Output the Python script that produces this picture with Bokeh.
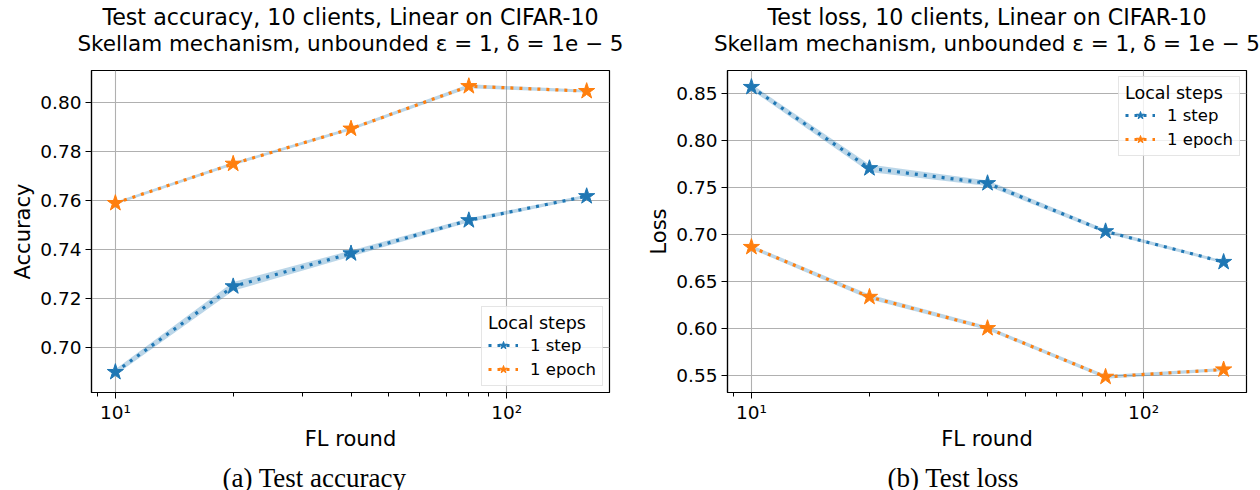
import numpy as np
from bokeh.plotting import figure
from bokeh.models import (FixedTicker, Title, Legend, LegendItem, Range1d,
                          PrintfTickFormatter)
from bokeh.layouts import row
from bokeh.embed import file_html
from bokeh.resources import INLINE

# ---------------- data ----------------
rounds = [10, 20, 40, 80, 160]

acc_step = [0.6901, 0.7250, 0.7384, 0.7519, 0.7617]
acc_step_err = [0.0012, 0.0018, 0.0012, 0.0008, 0.0006]
acc_epoch = [0.7589, 0.7749, 0.7892, 0.8065, 0.8045]
acc_epoch_err = [0.0006, 0.0006, 0.0006, 0.0008, 0.0006]

loss_step = [0.8565, 0.7702, 0.7543, 0.7032, 0.6706]
loss_step_err = [0.003, 0.004, 0.003, 0.002, 0.0015]
loss_epoch = [0.6865, 0.6335, 0.6003, 0.5486, 0.5564]
loss_epoch_err = [0.002, 0.0025, 0.002, 0.002, 0.0015]

series_labels = ["1 step", "1 epoch"]
series_colors = ["#1f77b4", "#ff7f0e"]
band_color = "#1f77b4"

acc_yticks = [0.70, 0.72, 0.74, 0.76, 0.78, 0.80]
loss_yticks = [0.55, 0.60, 0.65, 0.70, 0.75, 0.80, 0.85]
x_major = [10, 100]
x_minor = [9, 20, 30, 40, 50, 60, 70, 80, 90]
x_labels = {10: "10¹", 100: "10²"}

FONT = "DejaVu Sans"
FH = 322


def make_panel(t1, t2, ylabel, yticks, ylim, series, legend_loc, caption,
               caption_offset, border_left, border_right, frame_w):
    p = figure(x_axis_type="log", x_range=Range1d(8.69, 183.0),
               y_range=Range1d(*ylim), frame_width=frame_w, frame_height=FH,
               min_border_left=border_left, min_border_right=border_right,
               min_border_top=70, min_border_bottom=98,
               output_backend="svg", toolbar_location=None, title=None)
    p.background_fill_color = "white"
    p.border_fill_color = "white"
    p.outline_line_color = "black"
    p.outline_line_width = 1.2

    # second title line (closest to the frame), then first line
    p.add_layout(Title(text=t2, align="center", vertical_align="top",
                       text_font=FONT, text_font_size="21.5px",
                       text_font_style="normal", text_color="black",
                       standoff=26), "above")
    p.add_layout(Title(text=t1, align="center", vertical_align="bottom",
                       text_font=FONT, text_font_size="22.2px",
                       text_font_style="normal", text_color="black",
                       standoff=-25), "above")
    p.add_layout(Title(text=caption, align="left", offset=caption_offset,
                       vertical_align="top", text_font="Liberation Serif",
                       text_font_size="27px", text_font_style="normal",
                       text_color="black", standoff=18), "below")

    for ax in (p.xaxis[0], p.yaxis[0]):
        ax.axis_line_color = "black"
        ax.axis_line_width = 1.2
        ax.major_tick_in = 0
        ax.major_tick_out = 6
        ax.minor_tick_in = 0
        ax.minor_tick_out = 4
        ax.major_tick_line_color = "black"
        ax.minor_tick_line_color = "black"
        ax.major_label_text_font = FONT
        ax.major_label_text_font_size = "18.5px"
        ax.major_label_text_color = "black"
        ax.axis_label_text_font = FONT
        ax.axis_label_text_font_size = "21px"
        ax.axis_label_text_font_style = "normal"
        ax.axis_label_text_color = "black"
        ax.major_label_standoff = 4

    p.xaxis[0].ticker = FixedTicker(ticks=x_major, minor_ticks=x_minor)
    p.xaxis[0].major_label_overrides = x_labels
    p.xaxis[0].major_label_standoff = 3
    p.xaxis[0].axis_label = "FL round"
    p.xaxis[0].axis_label_standoff = 1

    p.yaxis[0].ticker = FixedTicker(ticks=yticks, minor_ticks=[])
    p.yaxis[0].formatter = PrintfTickFormatter(format="%.2f")
    p.yaxis[0].axis_label = ylabel
    p.yaxis[0].axis_label_standoff = 2

    p.xgrid.grid_line_color = "#b0b0b0"
    p.ygrid.grid_line_color = "#b0b0b0"
    p.xgrid.grid_line_width = 1.1
    p.ygrid.grid_line_width = 1.1

    items = []
    for (vals, errs), label, color in zip(series, series_labels, series_colors):
        v = np.array(vals)
        e = np.array(errs)
        p.varea(x=rounds, y1=v - e, y2=v + e, fill_color=band_color, fill_alpha=0.3)
    for (vals, errs), label, color in zip(series, series_labels, series_colors):
        ln = p.line(rounds, vals, line_color=color, line_width=3.2,
                    line_dash="3 6", line_cap="butt")
        sc = p.scatter(rounds, vals, marker="star", size=17, fill_color=color,
                       line_color=color)
        items.append(LegendItem(label=label, renderers=[ln, sc]))

    leg = Legend(items=items, title="Local steps", location=legend_loc,
                 title_text_font=FONT, title_text_font_size="17.5px",
                 title_text_font_style="normal", title_text_color="black",
                 label_text_font=FONT, label_text_font_size="16.5px",
                 label_text_color="black",
                 border_line_color="#cccccc", border_line_width=1.2,
                 background_fill_color="white", background_fill_alpha=0.8,
                 margin=6, padding=6, spacing=4, glyph_width=30,
                 glyph_height=20, label_height=20, label_standoff=12,
                 title_standoff=2)
    p.add_layout(leg)
    return p


p1 = make_panel("Test accuracy, 10 clients, Linear on CIFAR-10",
                "Skellam mechanism, unbounded ε = 1, δ = 1e − 5",
                "Accuracy", acc_yticks, (0.6818, 0.8129),
                [(acc_step, acc_step_err), (acc_epoch, acc_epoch_err)],
                "bottom_right", "(a) Test accuracy", 131, 91, 21, 518)
p2 = make_panel("Test loss, 10 clients, Linear on CIFAR-10",
                "Skellam mechanism, unbounded ε = 1, δ = 1e − 5",
                "Loss", loss_yticks, (0.532, 0.8741),
                [(loss_step, loss_step_err), (loss_epoch, loss_epoch_err)],
                "top_right", "(b) Test loss", 160, 97, 14, 519)

layout = row(p1, p2)
open("out.html", "w").write(file_html(layout, INLINE))
